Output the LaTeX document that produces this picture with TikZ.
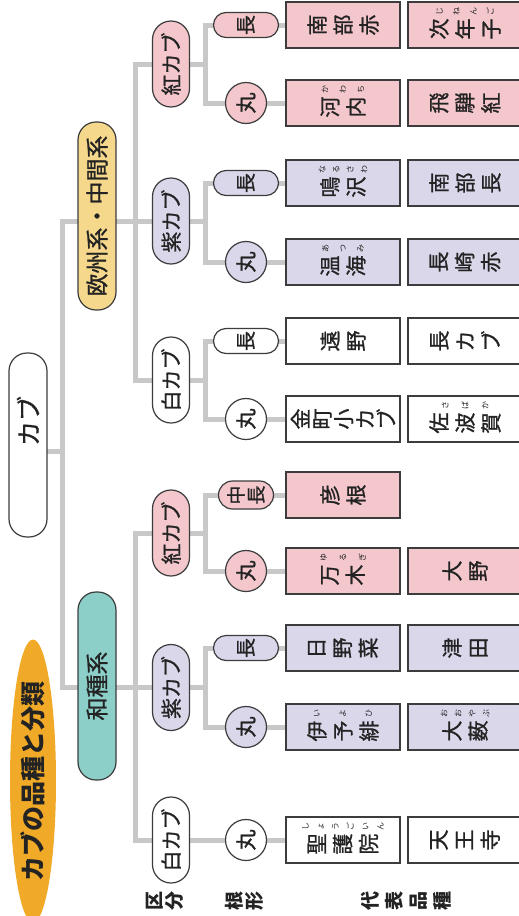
\documentclass[tikz,border=0pt]{standalone}
\usepackage{fontspec}
\setmainfont{Noto Sans CJK JP}
\newfontfamily\jpm{Noto Sans CJK JP}[FakeBold=1]
\usetikzlibrary{shapes.geometric,backgrounds}
\definecolor{pinkf}{RGB}{243,199,204}
\definecolor{purf}{RGB}{219,215,235}
\definecolor{tealf}{RGB}{140,206,200}
\definecolor{yelf}{RGB}{246,216,140}
\definecolor{orgf}{RGB}{240,170,40}
\definecolor{outc}{RGB}{60,60,60}
\definecolor{lineg}{RGB}{200,200,200}
\definecolor{txt}{RGB}{35,35,35}
\tikzset{
 conn/.style={draw=lineg, line width=5pt},
 outl/.style={draw=outc, line width=1.2pt, text=txt},
 titlenode/.style={ellipse, fill=orgf, minimum width=262pt, minimum height=46pt, inner sep=0pt, rotate=90, text=txt, font=\bfseries\fontsize{25}{25}\selectfont},
 lvone/.style={outl, rounded corners=18pt, minimum width=188pt, minimum height=38pt, inner sep=0pt, rotate=90, font=\jpm\fontsize{23}{23}\selectfont},
 lvtwo/.style={outl, rounded corners=18.5pt, minimum width=86pt, minimum height=37pt, inner sep=0pt, rotate=90, font=\jpm\fontsize{21}{21}\selectfont},
 longs/.style={outl, rounded corners=12.5pt, minimum width=25pt, minimum height=65pt, inner sep=0pt, rotate=90, font=\jpm\fontsize{20}{20}\selectfont},
 mids/.style={outl, rounded corners=14pt, minimum width=28pt, minimum height=55pt, inner sep=0pt, rotate=90, align=center, font=\jpm\fontsize{19}{20}\selectfont},
 rounds/.style={outl, circle, minimum size=41pt, inner sep=0pt, rotate=90, font=\jpm\fontsize{21}{21}\selectfont},
 vbx/.style={draw=outc, line width=1.5pt, minimum width=46pt, minimum height=114pt, inner sep=0pt, rotate=90},
 tate/.style={rotate=90, align=center, inner sep=0pt, text=txt, font=\jpm\fontsize{21}{#1}\selectfont},
 tate/.default=26,
 ruby/.style={rotate=90, align=center, inner sep=0pt, text=txt, font=\fontsize{8}{#1}\selectfont},
 lbl/.style={rotate=90, align=center, inner sep=0pt, text=txt, font=\bfseries\fontsize{19}{#1}\selectfont},
 plain/.style={rotate=90, inner sep=0pt, text=txt, font=\jpm\fontsize{25}{25}\selectfont},
}
\begin{document}
\begin{tikzpicture}[x=1pt,y=-1pt]
\useasboundingbox (0,0) rectangle (519,916);
% title and upper levels
\node[titlenode] (title) at (33,781) {カブの品種と分類};
\node[lvone, fill=white, minimum width=184pt] (kabu) at (28,445) {};
\node[plain] (kabut) at (28,421) {カブ};
\node[lvone, fill=yelf] (eu) at (97,216) {欧州系・中間系};
\node[lvone, fill=tealf] (wa) at (97,686) {和種系};
\node[lvtwo, fill=pinkf] (ered) at (171,64) {紅カブ};
\node[lvtwo, fill=purf] (epur) at (171,221) {紫カブ};
\node[lvtwo, fill=white] (ewht) at (171,380) {白カブ};
\node[lvtwo, fill=pinkf] (wred) at (171,533) {紅カブ};
\node[lvtwo, fill=purf] (wpur) at (171,687.5) {紫カブ};
\node[lvtwo, fill=white] (wwht) at (171,840) {白カブ};
% root shapes
\node[longs, fill=pinkf] (s1) at (246,25) {長};
\node[rounds, fill=pinkf] (s2) at (246,103) {丸};
\node[longs, fill=purf] (s3) at (246,183) {長};
\node[rounds, fill=purf] (s4) at (246,262) {丸};
\node[longs, fill=white] (s5) at (246,341) {長};
\node[rounds, fill=white] (s6) at (246,419) {丸};
\node[mids, fill=pinkf] (s7) at (246,495) {中\\長};
\node[rounds, fill=pinkf] (s8) at (246,571) {丸};
\node[longs, fill=purf] (s9) at (246,648) {長};
\node[rounds, fill=purf] (s10) at (246,727) {丸};
\node[rounds, fill=white] (s11) at (246,840) {丸};
% variety boxes
\node[vbx, fill=pinkf] (b1a) at (343,25) {};
\node[vbx, fill=pinkf] (b1b) at (465,25) {};
\node[vbx, fill=pinkf] (b2a) at (343,103) {};
\node[vbx, fill=pinkf] (b2b) at (465,103) {};
\node[vbx, fill=purf] (b3a) at (343,183) {};
\node[vbx, fill=purf] (b3b) at (465,183) {};
\node[vbx, fill=purf] (b4a) at (343,262) {};
\node[vbx, fill=purf] (b4b) at (465,262) {};
\node[vbx, fill=white] (b5a) at (343,341) {};
\node[vbx, fill=white] (b5b) at (465,341) {};
\node[vbx, fill=white] (b6a) at (343,419) {};
\node[vbx, fill=white] (b6b) at (465,419) {};
\node[vbx, fill=pinkf] (b7a) at (343,495) {};
\node[vbx, fill=pinkf] (b8a) at (343,571) {};
\node[vbx, fill=pinkf] (b8b) at (465,571) {};
\node[vbx, fill=purf] (b9a) at (343,648) {};
\node[vbx, fill=purf] (b9b) at (465,648) {};
\node[vbx, fill=purf] (b10a) at (343,727) {};
\node[vbx, fill=purf] (b10b) at (465,727) {};
\node[vbx, fill=white] (b11a) at (343,840) {};
\node[vbx, fill=white] (b11b) at (465,840) {};
% variety names
\node[tate] (t1a) at (b1a) {南\\部\\赤};
\node[tate] (t1b) at ([yshift=-4pt]b1b.center) {次\\年\\子};
\node[ruby=17] (r1b) at ([yshift=14pt]b1b.center) {じ\\ね\\ん\\ご};
\node[tate] (t2a) at ([yshift=-4pt]b2a.center) {河\\内};
\node[ruby=18] (r2a) at ([yshift=14pt]b2a.center) {か\\わ\\ち};
\node[tate] (t2b) at (b2b) {飛\\騨\\紅};
\node[tate] (t3a) at ([yshift=-4pt]b3a.center) {鳴\\沢};
\node[ruby=14] (r3a) at ([yshift=14pt]b3a.center) {な\\る\\さ\\わ};
\node[tate] (t3b) at (b3b) {南\\部\\長};
\node[tate] (t4a) at ([yshift=-4pt]b4a.center) {温\\海};
\node[ruby=17.5] (r4a) at ([yshift=14pt]b4a.center) {あ\\つ\\み};
\node[tate] (t4b) at (b4b) {長\\崎\\赤};
\node[tate] (t5a) at (b5a) {遠\\野};
\node[tate] (t5b) at (b5b) {長\\カ\\ブ};
\node[tate=21.5] (t6a) at (b6a) {金\\町\\小\\カ\\ブ};
\node[tate] (t6b) at ([yshift=-4pt]b6b.center) {佐\\波\\賀};
\node[ruby=20] (r6b) at ([yshift=14pt]b6b.center) {さ\\ば\\か};
\node[tate] (t7a) at (b7a) {彦\\根};
\node[tate] (t8a) at ([yshift=-4pt]b8a.center) {万\\木};
\node[ruby=19.5] (r8a) at ([yshift=14pt]b8a.center) {ゆ\\る\\ぎ};
\node[tate] (t8b) at (b8b) {大\\野};
\node[tate] (t9a) at (b9a) {日\\野\\菜};
\node[tate] (t9b) at (b9b) {津\\田};
\node[tate] (t10a) at ([yshift=-4pt]b10a.center) {伊\\予\\緋};
\node[ruby=26] (r10a) at ([yshift=14pt]b10a.center) {い\\よ\\ひ};
\node[tate] (t10b) at ([yshift=-4pt]b10b.center) {大\\薮};
\node[ruby=14] (r10b) at ([yshift=14pt]b10b.center) {お\\お\\や\\ぶ};
\node[tate] (t11a) at ([yshift=-4pt]b11a.center) {聖\\護\\院};
\node[ruby=15] (r11a) at ([yshift=14pt]b11a.center) {し\\ょ\\う\\ご\\い\\ん};
\node[tate] (t11b) at (b11b) {天\\王\\寺};
% bottom labels
\node[lbl=20] (lbA) at (165,901) {区\\分};
\node[lbl=20] (lbB) at (244,901) {根\\形};
\node[lbl=24] (lbC) at (406,901) {代\\表\\品\\種};
% connectors
\coordinate (k) at (62,0);
\coordinate (e) at (135,0);
\coordinate (c) at (205,0);
\begin{pgfonlayer}{background}
\fill[white] (0,0) rectangle (519,916);
\draw[conn] (kabu.center |- 0,451) -- (k |- 0,451);
\draw[conn] (epur.center) -- (k |- epur.center) -- (k |- wpur.center) -- (wpur.center);
\draw[conn] (ered.center) -- (e |- ered.center) -- (e |- ewht.center) -- (ewht.center);
\draw[conn] (wred.center) -- (e |- wred.center) -- (e |- wwht.center) -- (wwht.center);
\draw[conn] (ered.center) -- (c |- ered.center);
\draw[conn] (epur.center) -- (c |- epur.center);
\draw[conn] (ewht.center) -- (c |- ewht.center);
\draw[conn] (wred.center) -- (c |- wred.center);
\draw[conn] (wpur.center) -- (c |- wpur.center);
\draw[conn] (b1a.center) -- (s1.center) -- (c |- s1.center) -- (c |- s2.center) -- (s2.center) -- (b2a.center);
\draw[conn] (b3a.center) -- (s3.center) -- (c |- s3.center) -- (c |- s4.center) -- (s4.center) -- (b4a.center);
\draw[conn] (b5a.center) -- (s5.center) -- (c |- s5.center) -- (c |- s6.center) -- (s6.center) -- (b6a.center);
\draw[conn] (b7a.center) -- (s7.center) -- (c |- s7.center) -- (c |- s8.center) -- (s8.center) -- (b8a.center);
\draw[conn] (b9a.center) -- (s9.center) -- (c |- s9.center) -- (c |- s10.center) -- (s10.center) -- (b10a.center);
\draw[conn] (wwht.center) -- (s11.center) -- (b11a.center);
\end{pgfonlayer}
\end{tikzpicture}
\end{document}
